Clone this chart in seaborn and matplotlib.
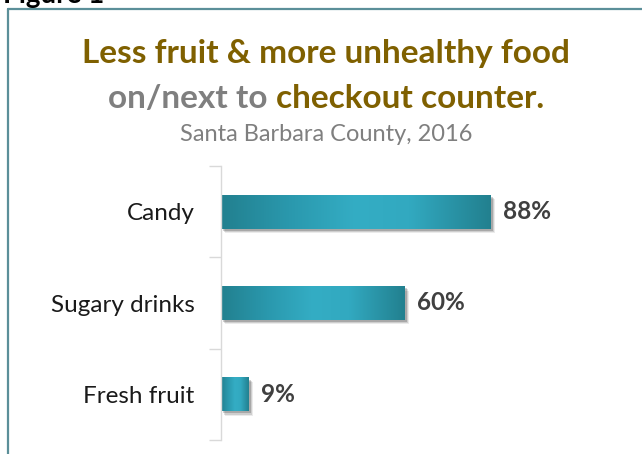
import numpy as np
import pandas as pd
import matplotlib
matplotlib.use("Agg")
import matplotlib.pyplot as plt
import matplotlib.patheffects as pe
from matplotlib.colors import LinearSegmentedColormap
from matplotlib.lines import Line2D
import seaborn as sns

# Share of stores with each item on or next to the checkout counter
categories = ["Candy", "Sugary drinks", "Fresh fruit"]
percent = [88, 60, 9]
value_labels = ["88%", "60%", "9%"]

title_line1 = "Less fruit & more unhealthy food"
title_line2_gray = "on/next to "
title_line2_gold = "checkout counter."
subtitle = "Santa Barbara County, 2016"
figure_label = "Figure 1"

GOLD = "#7f6000"
GRAY = "#7f7f7f"
DARK = "#404040"
AXIS = "#d9d9d9"
FRAME = "#5b8f99"

sns.set_theme(style="white")
plt.rcParams["font.family"] = ["Lato", "DejaVu Sans"]

W, H = 642, 454
fig = plt.figure(figsize=(W / 100, H / 100), dpi=100)
fig.patch.set_facecolor("white")

ax = fig.add_axes([221 / W, 14 / H, 306 / W, 274 / H])
df = pd.DataFrame({"item": categories, "pct": percent})
sns.barplot(data=df, x="pct", y="item", orient="h", width=0.37,
            color="#2a9bb0", ax=ax)
ax.set_xlim(0, 100)
ax.set_ylim(2.5, -0.5)
ax.set_xlabel("")
ax.set_ylabel("")
ax.set_xticks([])

for side in ["top", "right", "bottom"]:
    ax.spines[side].set_visible(False)
ax.spines["left"].set_color(AXIS)
ax.spines["left"].set_linewidth(1.0)

# Category tick marks sit between the bars
ax.set_yticks([-0.5, 0.5, 1.5, 2.5], minor=True)
ax.tick_params(axis="y", which="minor", length=9, width=1, color=AXIS, left=True)
ax.tick_params(axis="y", which="major", length=0, pad=19, labelsize=17.5,
               labelcolor="#1a1a1a")

# Horizontal cylinder-like gradient for each bar, with a soft drop shadow
grad_cmap = LinearSegmentedColormap.from_list(
    "bar_grad",
    [(0.0, "#22808f"), (0.25, "#2a98ad"), (0.5, "#34adc4"),
     (0.7, "#32a9c0"), (1.0, "#22808f")])
gradient = np.linspace(0, 1, 256).reshape(1, -1)

for bar, lab in zip(ax.patches, value_labels):
    x0, y0 = bar.get_x(), bar.get_y()
    w, h = bar.get_width(), bar.get_height()
    bar.set_facecolor("none")
    bar.set_edgecolor("none")
    shadow_fx = [
        pe.SimplePatchShadow(offset=(3.2, -3.2), shadow_rgbFace="#000000", alpha=0.08),
        pe.SimplePatchShadow(offset=(2.4, -2.4), shadow_rgbFace="#000000", alpha=0.12),
        pe.SimplePatchShadow(offset=(1.6, -1.6), shadow_rgbFace="#000000", alpha=0.18),
        pe.Normal(),
    ]
    shadow = plt.Rectangle((x0, y0), w, h, facecolor="white", edgecolor="none",
                           path_effects=shadow_fx, zorder=1)
    ax.add_patch(shadow)
    img = ax.imshow(gradient, cmap=grad_cmap, aspect="auto",
                    extent=(x0, x0 + w, y0 + h, y0), zorder=2,
                    interpolation="bicubic")
    img.set_clip_path(bar)
    ax.text(x0 + w + 4, y0 + h / 2, lab, ha="left", va="center",
            fontsize=17.5, fontweight="bold", color=DARK, zorder=3)

ax.set_xlim(0, 100)
ax.set_ylim(2.5, -0.5)
ax.set_aspect("auto")

# Titles
cx = 326 / W
fig.text(cx, 1 - 53 / H, title_line1, ha="center", va="center",
         fontsize=24, fontweight="bold", color=GOLD)

t_gray = fig.text(0, 1 - 98 / H, title_line2_gray, ha="left", va="center",
                  fontsize=24, fontweight="bold", color=GRAY)
t_gold = fig.text(0, 1 - 98 / H, title_line2_gold, ha="left", va="center",
                  fontsize=24, fontweight="bold", color=GOLD)
fig.canvas.draw()
r = fig.canvas.get_renderer()
wg = t_gray.get_window_extent(r).width
wo = t_gold.get_window_extent(r).width
start = cx * W - (wg + wo) / 2
t_gray.set_x(start / W)
t_gold.set_x((start + wg) / W)

fig.text(cx, 1 - 134 / H, subtitle, ha="center", va="center",
         fontsize=17, color=GRAY)

# Outer frame (left and top edges visible)
fig.add_artist(Line2D([8 / W, 8 / W], [0, 1 - 9 / H], transform=fig.transFigure,
                      color=FRAME, linewidth=1.6))
fig.add_artist(Line2D([8 / W, 1], [1 - 9 / H, 1 - 9 / H], transform=fig.transFigure,
                      color=FRAME, linewidth=1.6))

# Figure caption sitting above the frame
fig.text(3 / W, 1 - 2.5 / H, figure_label, ha="left", va="baseline",
         fontsize=20, fontweight="bold", color="black")

fig.savefig("out.png", dpi=100)
